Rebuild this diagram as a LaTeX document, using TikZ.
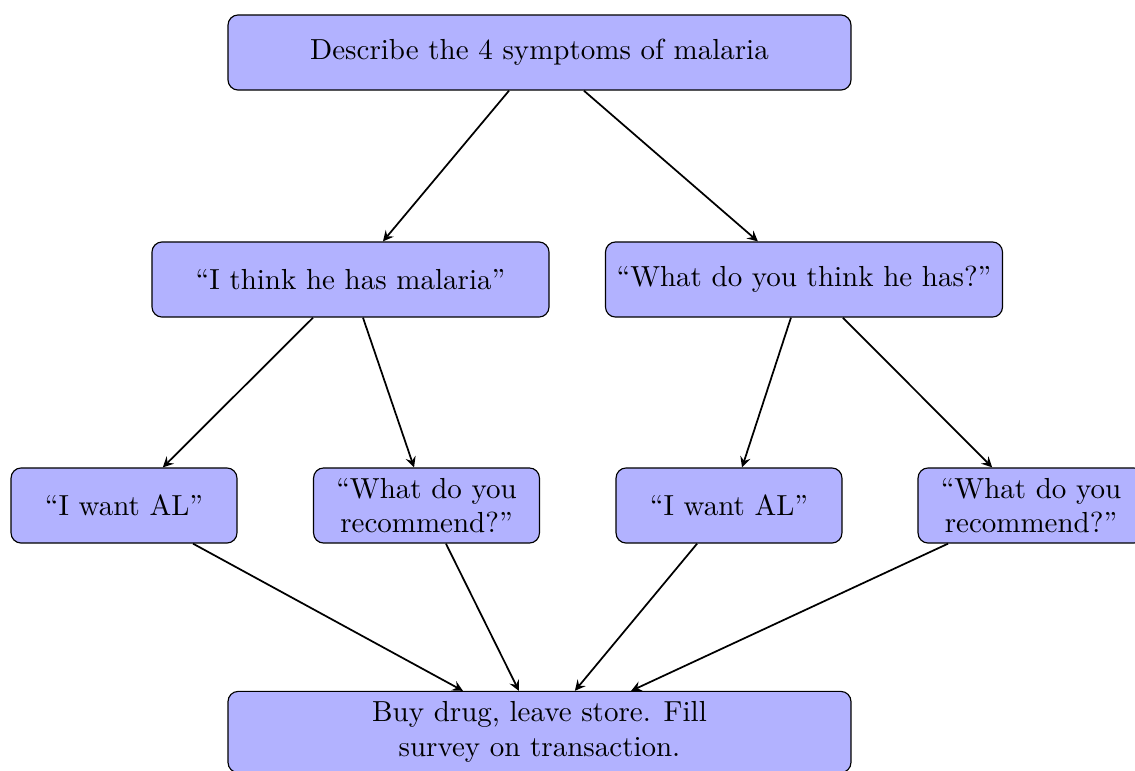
\documentclass[tikz,border=0pt]{standalone}
\usetikzlibrary{arrows}
\begin{document}
\begin{tikzpicture}[x=0.3448pt,y=-0.3448pt,
  box/.style={draw=black,fill=blue!30,rounded corners=3.5pt,align=center,
    minimum height=25.9pt,inner sep=0pt},
  wide/.style={box,minimum width=214.8pt},
  mid/.style={box,minimum width=136.9pt},
  small/.style={box,minimum width=77.9pt},
  arr/.style={->,>=stealth,semithick}]
\useasboundingbox (0,0) rectangle (1135,770);
\node[wide] (top) at (539.5,52.5) {Describe the 4 symptoms of malaria};
\node[mid] (ml) at (350.5,279.5) {``I think he has malaria''};
\node[mid] (mr) at (804,279.5) {``What do you think he has?''};
\node[small] (a) at (124,505.5) {``I want AL''};
\node[small] (b) at (426.5,505.5) {``What do you\\recommend?''};
\node[small] (c) at (729,505.5) {``I want AL''};
\node[small] (d) at (1031,505.5) {``What do you\\recommend?''};
\node[wide,minimum height=28pt] (bot) at (539.5,732) {Buy drug, leave store. Fill\\survey on transaction.};
\draw[arr] ([xshift=-10.5pt]top.south) -- ([xshift=11.2pt]ml.north);
\draw[arr] ([xshift=15.3pt]top.south) -- ([xshift=-15.9pt]mr.north);
\draw[arr] ([xshift=-12.9pt]ml.south) -- ([xshift=13.4pt]a.north);
\draw[arr] ([xshift=4.3pt]ml.south) -- ([xshift=-4.3pt]b.north);
\draw[arr] ([xshift=-4.5pt]mr.south) -- ([xshift=4.5pt]c.north);
\draw[arr] ([xshift=13.4pt]mr.south) -- ([xshift=-13.4pt]d.north);
\draw[arr] ([xshift=23.8pt]a.south) -- ([xshift=-26.4pt]bot.north);
\draw[arr] ([xshift=6.7pt]b.south) -- ([xshift=-7.1pt]bot.north);
\draw[arr] ([xshift=-11.0pt]c.south) -- ([xshift=12.2pt]bot.north);
\draw[arr] ([xshift=-28.6pt]d.south) -- ([xshift=31.6pt]bot.north);
\end{tikzpicture}
\end{document}
